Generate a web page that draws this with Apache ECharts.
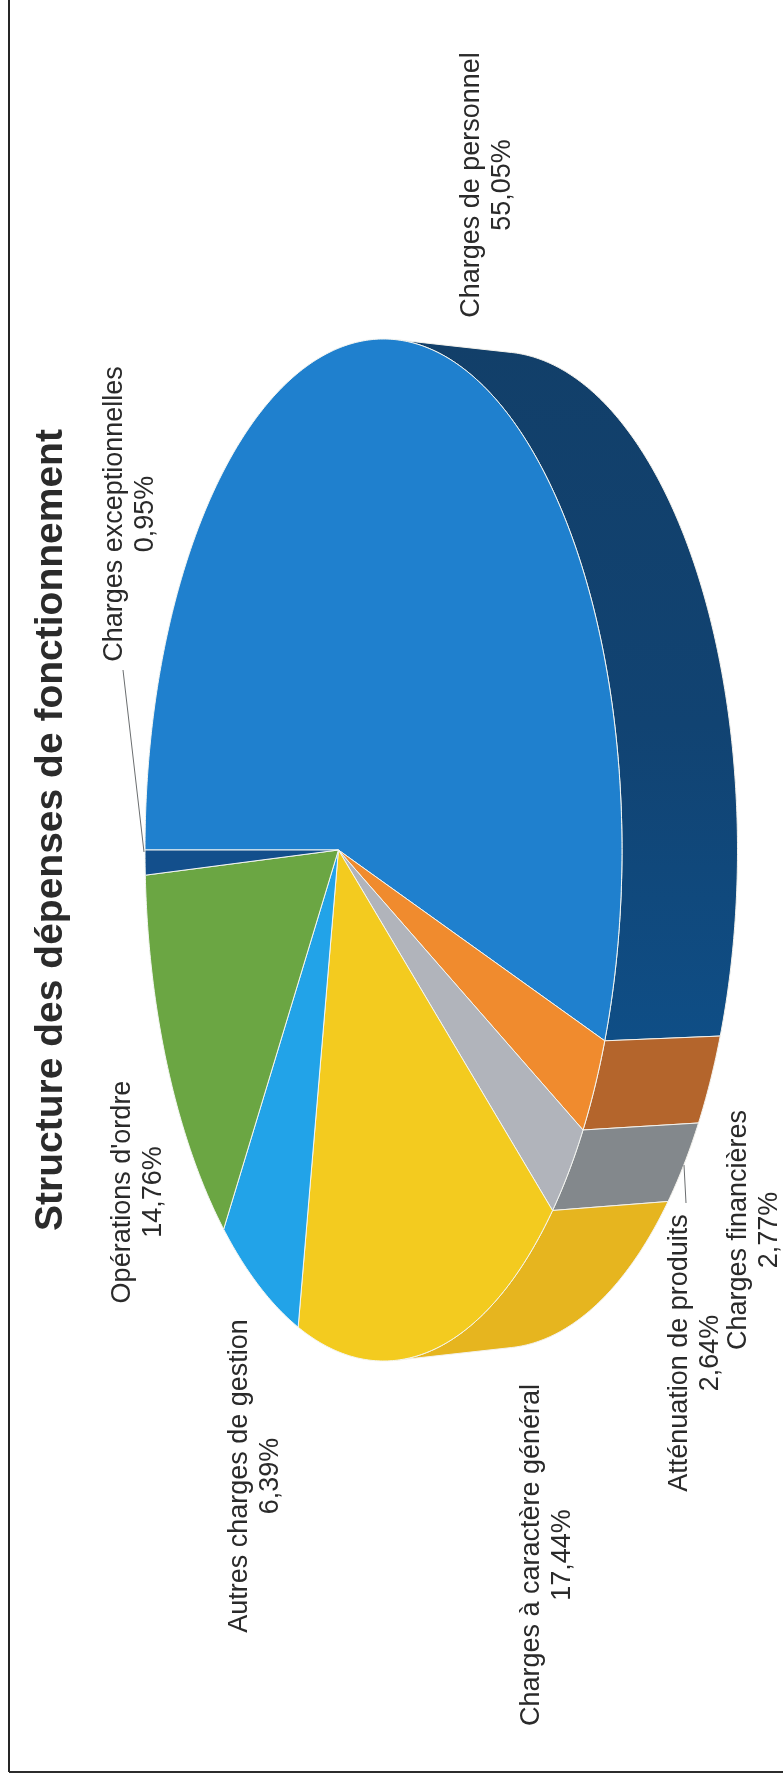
<!DOCTYPE html>
<html lang="fr">
<head>
<meta charset="utf-8">
<title>Structure des dépenses de fonctionnement</title>
<style>
html,body{margin:0;padding:0;background:#fff}
#chart{width:783px;height:1784px}
</style>
<script src="https://cdn.jsdelivr.net/npm/echarts@6/dist/echarts.min.js"></script>
</head>
<body>
<div id="chart"></div>
<script>
// ---- data, clockwise from the start of the pie ----
const chartTitle = 'Structure des dépenses de fonctionnement';
const categories = [
  'Charges de personnel',
  'Atténuation de produits',
  'Charges financières',
  'Charges à caractère général',
  'Autres charges de gestion',
  "Opérations d'ordre",
  'Charges exceptionnelles'
];
const shares = [55.05, 2.64, 2.77, 17.44, 6.39, 14.76, 0.95];

// ---- styles ----
const faceColors = ['#1F80CE', '#F08B2E', '#B1B4BB', '#F3CB1F', '#22A3E8', '#6BA643', '#134F8C'];
const wallColors = ['#12436F', '#B4652C', '#83888C', '#E6B51F', '#1C82BA', '#55853A', '#0F3F70'];

// ---- layout ----
const ELLIPSE = {cx: 383.5, cy: 850, a: 238.5, b: 511, r: 0.189}; // projected top face
const DEPTH = {dx: 115.5, yScale: 0.975};                         // extrusion of the side wall
const labelAnchors = [[487, 185], [695, 1353], [754, 1230], [547.5, 1555], [255, 1476], [138, 1192], [130.5, 514]];
const LABEL_FONT = '27px "Liberation Sans", Arial, sans-serif';
const leaders = [
  [[123, 670], [144, 852]],
  [[684, 1165], [686, 1203]]
];

// ---- projection of the tilted disc ----
const total = shares.reduce((a, b) => a + b, 0);
const startAngle = i => shares.slice(0, i).reduce((a, b) => a + b, 0) / total * 2 * Math.PI;
function rim(t) {
  const c = Math.cos(t), s = Math.sin(t), E = ELLIPSE;
  const d = 1 + E.r * c;
  return [
    E.cx - E.a * (c + E.r) / d,
    E.cy - E.b * s * Math.sqrt(1 - E.r * E.r) / d
  ];
}
function rimBottom(t) {
  const p = rim(t);
  return [p[0] + DEPTH.dx, ELLIPSE.cy + (p[1] - ELLIPSE.cy) * DEPTH.yScale];
}
const hub = (() => { const E = ELLIPSE; return [E.cx - E.a * E.r, E.cy]; })();
function arc(a, b, fn) {
  const n = Math.max(2, Math.ceil((b - a) / 0.01));
  const pts = [];
  for (let i = 0; i <= n; i++) pts.push(fn(a + (b - a) * i / n));
  return pts;
}
function wallVisible(t) {
  const p = rim(t), p2 = rim(t + 0.001), q = rimBottom(t);
  return (p2[0] - p[0]) * (q[1] - p[1]) - (p2[1] - p[1]) * (q[0] - p[0]) < 0;
}
// first and last rim angle where the side wall faces the viewer
const wallRange = (() => {
  let lo = null, hi = null;
  for (let t = 0; t < 2 * Math.PI; t += 0.002) {
    if (wallVisible(t)) { if (lo === null) lo = t; hi = t; }
  }
  return [lo, hi];
})();

function wallItem(params, api) {
  const i = params.dataIndex;
  const a = Math.max(startAngle(i), wallRange[0]);
  const b = Math.min(startAngle(i + 1), wallRange[1]);
  if (b <= a) return null;
  const pts = arc(a, b, rim).concat(arc(a, b, rimBottom).reverse());
  let fill = wallColors[i];
  if (i === 0) {
    fill = new echarts.graphic.LinearGradient(0, 340, 0, 1040, [
      {offset: 0, color: '#123F69'},
      {offset: 0.55, color: '#114372'},
      {offset: 1, color: '#0F4E86'}
    ], true);
  }
  return {type: 'polygon', shape: {points: pts}, style: {fill: fill, stroke: '#F4F2EC', lineWidth: 1}};
}
function faceItem(params, api) {
  const i = params.dataIndex;
  const pts = [hub].concat(arc(startAngle(i), startAngle(i + 1), rim));
  return {type: 'polygon', shape: {points: pts}, style: {fill: faceColors[i], stroke: '#F4F6F2', lineWidth: 1}};
}
function labelItem(params, api) {
  const i = params.dataIndex;
  const text = categories[i] + '\n' + api.value(0).toFixed(2).replace('.', ',') + '%';
  return {
    type: 'text',
    x: labelAnchors[i][0], y: labelAnchors[i][1], rotation: Math.PI / 2,
    style: {text: text, font: LABEL_FONT, fill: '#2A2A2A', align: 'center', verticalAlign: 'middle', lineHeight: 31}
  };
}

const chart = echarts.init(document.getElementById('chart'), null, {renderer: 'canvas'});
const seriesData = shares.map(v => [v]);
chart.setOption({
  animation: false,
  backgroundColor: '#FFFFFF',
  graphic: [
    {type: 'line', z: 1, shape: {x1: 9, y1: 0, x2: 9, y2: 1772}, style: {stroke: '#262626', lineWidth: 2}},
    {type: 'line', z: 1, shape: {x1: 9, y1: 1772, x2: 783, y2: 1772}, style: {stroke: '#2C2C2C', lineWidth: 2}},
    {type: 'text', z: 5, x: 51, y: 830, rotation: Math.PI / 2,
      style: {text: chartTitle, font: 'bold 39px "Liberation Sans", Arial, sans-serif', fill: '#2B2B2B', align: 'center', verticalAlign: 'middle'}}
  ].concat(leaders.map(l => ({
    type: 'polyline', z: 4, shape: {points: l}, style: {stroke: '#6B6E70', lineWidth: 1, fill: null}
  }))),
  series: [
    {type: 'custom', name: 'Côtés', coordinateSystem: 'none', z: 2, silent: true, data: seriesData, renderItem: wallItem},
    {type: 'custom', name: 'Parts', coordinateSystem: 'none', z: 3, silent: true, data: seriesData, renderItem: faceItem},
    {type: 'custom', name: 'Étiquettes', coordinateSystem: 'none', z: 5, silent: true, data: seriesData, renderItem: labelItem}
  ]
});
</script>
</body>
</html>
